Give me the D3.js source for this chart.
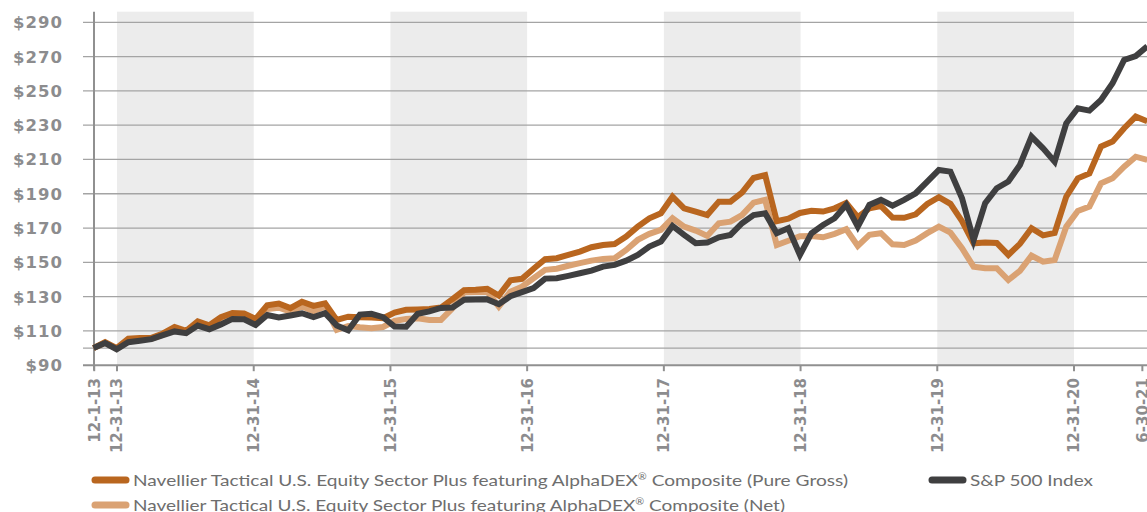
<!DOCTYPE html>
<html>
<head>
<meta charset="utf-8">
<script src="https://cdn.jsdelivr.net/npm/d3@7"></script>
<style>
html, body { margin: 0; padding: 0; background: #fff; overflow: hidden; }
svg { display: block; }
</style>
</head>
<body>
<div id="chart"></div>
<script>
// monthly growth of $100, month 0 = start (labelled 12-1-13) .. month 91 = 6-30-21
var sp500 = [100, 102.9, 99.3, 103.4, 104.3, 105.2, 107.5, 109.7, 108.7, 113.1,
	111, 113.8, 117, 116.8, 113.5, 119.3, 117.8, 119, 120.3, 118,
	120.3, 113.2, 110.4, 119.5, 120, 118, 112.5, 112.4, 120, 121.4,
	123.4, 123.6, 128.2, 128.3, 128.4, 125.6, 130.2, 132.6, 135, 140.5,
	140.7, 142.1, 143.6, 145.2, 147.5, 148.5, 151, 154.3, 159.2, 162.1,
	171.2, 166, 161.1, 161.5, 164.6, 166, 172.8, 177.6, 178.6, 167,
	169.9, 154.3, 167, 171.8, 175.7, 183.5, 170.8, 183.5, 186.4, 183.1,
	186.4, 190.3, 197.1, 203.9, 202.9, 187.4, 163, 184.5, 193.2, 197.1,
	206.8, 223.3, 216.5, 208.7, 231.1, 239.9, 238.5, 244.7, 254.4, 268,
	270.3, 276];

var pureGross = [100, 103.5, 100, 105.5, 105.8, 106, 108.5, 112.3, 110, 115.5,
	113.3, 118, 120.5, 120.2, 117, 125, 126, 123.3, 127, 124.6,
	126.1, 116.4, 118.3, 118, 117.8, 117.4, 120.7, 122.3, 122.5, 122.8,
	123.6, 128.5, 133.8, 134, 134.6, 130.6, 139.5, 140.4, 146.3, 151.8,
	152.4, 154.3, 156.3, 158.8, 160.1, 160.7, 165, 170.8, 175.7, 178.6,
	188.3, 181.5, 179.6, 177.6, 185.4, 185.4, 190.6, 199.2, 200.9, 174,
	175.5, 178.8, 180.1, 179.6, 181.5, 184.6, 176.4, 181.5, 182.8, 176.1,
	176, 178, 184, 188, 184.1, 174, 161.1, 161.5, 161.3, 154.3,
	160.8, 169.9, 165.7, 167.2, 188.3, 199, 201.8, 217.5, 220.4, 228.2,
	235, 232.3];

var net = [100, 103, 99.6, 104.8, 105.2, 105.4, 107.8, 111.3, 109, 114.5,
	112.3, 116.6, 118.8, 118.5, 115.5, 122.7, 123.5, 121.3, 124.2, 121.5,
	124.2, 110.6, 112.9, 112.1, 111.6, 112.3, 115.8, 117, 117.4, 116.4,
	116.4, 123.2, 132.5, 132.7, 132.9, 124.2, 132.9, 135.8, 140.7, 145.6,
	146.3, 148, 149.5, 151, 152, 152.4, 157.2, 163.1, 166.6, 168.9,
	175.7, 170.8, 168.5, 165.4, 172.8, 173.7, 177.6, 184.8, 186.4, 160.1,
	162.6, 165.2, 165.4, 164.6, 166.6, 169.3, 159.6, 166, 167, 160.5,
	160.1, 162.7, 167, 170.8, 167.3, 158.2, 147.5, 146.6, 146.6, 139.7,
	145, 153.9, 150.4, 151.4, 170.8, 180, 182.5, 196.1, 199, 205.8,
	211.6, 209.7];

var yLabelValues = [90, 110, 130, 150, 170, 190, 210, 230, 250, 270, 290];
var gridValues = [100, 110, 130, 150, 170, 190, 210, 230, 250, 270, 290];

// date labels, placed in months after 12-31-13
var dateLabels = ["12-1-13", "12-31-13", "12-31-14", "12-31-15", "12-31-16",
	"12-31-17", "12-31-18", "12-31-19", "12-31-20", "6-30-21"];
var dateMonths = [-2, 0, 12, 24, 36, 48, 60, 72, 84, 90];

// shaded years (from, to) in the same month units
var shadedYears = [[0, 12], [24, 36], [48, 60], [72, 84]];

var seriesNames = [
	"Navellier Tactical U.S. Equity Sector Plus featuring AlphaDEX\u00AE Composite (Pure Gross)",
	"S&P 500 Index",
	"Navellier Tactical U.S. Equity Sector Plus featuring AlphaDEX\u00AE Composite (Net)"
];

var colors = {gross: "#b9661f", net: "#daa273", sp: "#3f3f40"};
var W = 1147, H = 512;
var plotTop = 11.7, plotLeft = 83;

var svg = d3.select("#chart").append("svg")
	.attr("width", W)
	.attr("height", H);

var y = d3.scaleLinear().domain([90, 290]).range([365.2, 22.3]);
var xData = d3.scaleLinear().domain([0, 91]).range([93.5, 1147.3]);
var xDate = d3.scaleLinear().domain([0, 84]).range([117, 1074]);

// shaded bands
svg.append("g").selectAll("rect")
	.data(shadedYears)
	.enter().append("rect")
	.attr("x", function(d) { return xDate(d[0]); })
	.attr("y", plotTop)
	.attr("width", function(d) { return xDate(d[1]) - xDate(d[0]); })
	.attr("height", y(90) - plotTop)
	.attr("fill", "#ececec");

// gridlines
svg.append("g").selectAll("line")
	.data(gridValues)
	.enter().append("line")
	.attr("x1", plotLeft)
	.attr("x2", W)
	.attr("y1", function(d) { return y(d); })
	.attr("y2", function(d) { return y(d); })
	.attr("stroke", "#a4a4a4")
	.attr("stroke-width", 1.3);

// y labels
svg.append("g").selectAll("text")
	.data(yLabelValues)
	.enter().append("text")
	.attr("x", 63)
	.attr("y", function(d) { return y(d); })
	.attr("dy", "0.36em")
	.attr("text-anchor", "end")
	.attr("font-family", "'DejaVu Sans', sans-serif")
	.attr("font-weight", "bold")
	.attr("font-size", "16.5px")
	.attr("letter-spacing", "1px")
	.attr("fill", "#8c8c8e")
	.text(function(d) { return "$" + d; });

// x axis line, y axis line, ticks
svg.append("line")
	.attr("x1", plotLeft).attr("x2", W)
	.attr("y1", y(90)).attr("y2", y(90))
	.attr("stroke", "#909090").attr("stroke-width", 2);

svg.append("line")
	.attr("x1", 94).attr("x2", 94)
	.attr("y1", plotTop).attr("y2", y(90) + 5)
	.attr("stroke", "#909090").attr("stroke-width", 2);

svg.append("g").selectAll("line")
	.data(dateMonths)
	.enter().append("line")
	.attr("x1", function(d) { return xDate(d); })
	.attr("x2", function(d) { return xDate(d); })
	.attr("y1", y(90))
	.attr("y2", y(90) + 6)
	.attr("stroke", "#909090")
	.attr("stroke-width", 2);

svg.append("g").selectAll("text")
	.data(dateLabels)
	.enter().append("text")
	.attr("transform", function(d, i) { return "translate(" + xDate(dateMonths[i]) + ",378) rotate(-90)"; })
	.attr("dy", "0.36em")
	.attr("text-anchor", "end")
	.attr("font-family", "'DejaVu Sans', sans-serif")
	.attr("font-weight", "bold")
	.attr("font-size", "15px")
	.attr("fill", "#8c8c8e")
	.text(function(d) { return d; });

// lines
var line = d3.line()
	.x(function(d, i) { return xData(i); })
	.y(function(d) { return y(d); });

var lineData = [
	{values: net, color: colors.net},
	{values: pureGross, color: colors.gross},
	{values: sp500, color: colors.sp}
];

svg.append("g").selectAll("path")
	.data(lineData)
	.enter().append("path")
	.attr("d", function(d) { return line(d.values); })
	.attr("fill", "none")
	.attr("stroke", function(d) { return d.color; })
	.attr("stroke-width", 6);

// legend
var legend = [
	{name: seriesNames[0], color: colors.gross, x: 95, y: 480, w: 715},
	{name: seriesNames[1], color: colors.sp, x: 932, y: 480, w: 123},
	{name: seriesNames[2], color: colors.net, x: 95, y: 505, w: 652}
];

var lg = svg.append("g").selectAll("g")
	.data(legend)
	.enter().append("g")
	.attr("transform", function(d) { return "translate(" + d.x + "," + d.y + ")"; });

lg.append("line")
	.attr("x1", 0).attr("x2", 31)
	.attr("y1", 0).attr("y2", 0)
	.attr("stroke", function(d) { return d.color; })
	.attr("stroke-width", 7)
	.attr("stroke-linecap", "round");

lg.each(function(d) {
	var t = d3.select(this).append("text")
		.attr("x", 38)
		.attr("y", 5.5)
		.attr("font-family", "Lato, 'Open Sans', sans-serif")
		.attr("font-size", "16px")
		.attr("fill", "#6e6e6e")
		.attr("textLength", d.w)
		.attr("lengthAdjust", "spacingAndGlyphs");
	var parts = d.name.split("\u00AE");
	t.append("tspan").text(parts[0]);
	if (parts.length > 1) {
		t.append("tspan").attr("font-size", "9px").attr("dy", -6).text("\u00AE");
		t.append("tspan").attr("dy", 6).text(parts[1]);
	}
});
</script>
</body>
</html>
